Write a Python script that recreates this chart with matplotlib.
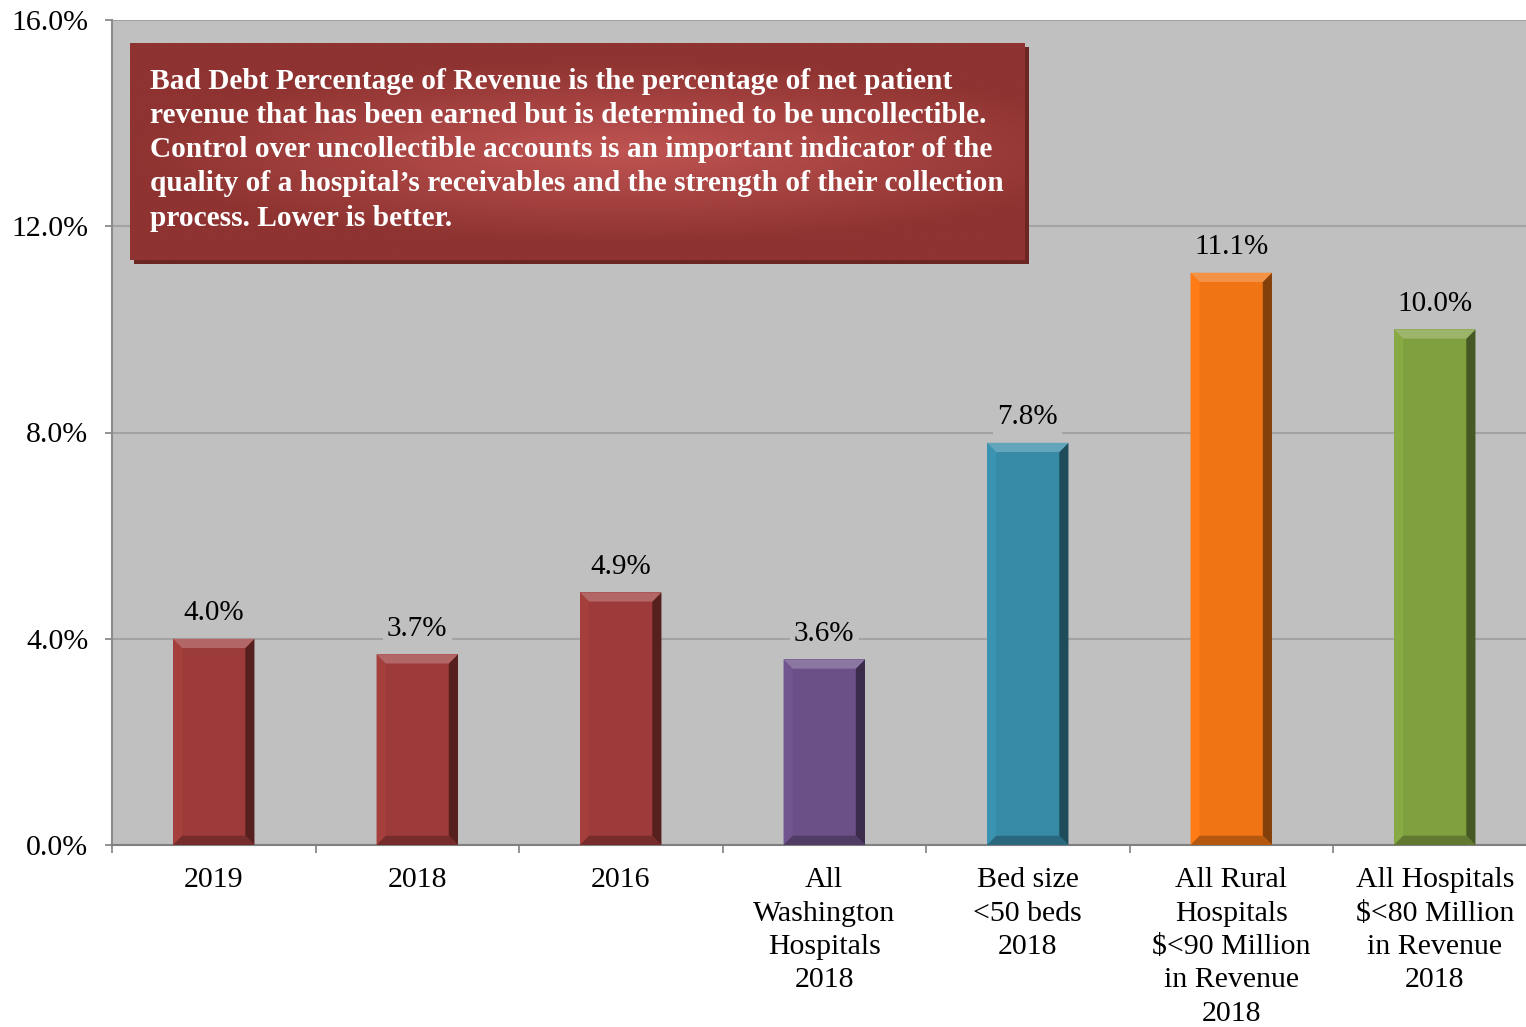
import numpy as np
import matplotlib
matplotlib.use("Agg")
import matplotlib.pyplot as plt
from matplotlib.patches import Polygon, Rectangle
import matplotlib.colors as mcolors

categories = ["2019", "2018", "2016", "All\nWashington\nHospitals\n2018",
              "Bed size\n<50 beds\n2018", "All Rural\nHospitals\n$<90 Million\nin Revenue\n2018",
              "All Hospitals\n$<80 Million\nin Revenue\n2018"]
values = [4.0, 3.7, 4.9, 3.6, 7.8, 11.1, 10.0]
bar_colors = ["#9c3b39", "#9c3b39", "#9c3b39", "#6a5087", "#378ba6", "#f07414", "#80a040"]
yticks = [0, 4, 8, 12, 16]
note = ("Bad Debt Percentage of Revenue is the percentage of net patient\n"
        "revenue that has been earned but is determined to be uncollectible.\n"
        "Control over uncollectible accounts is an important indicator of the\n"
        "quality of a hospital\u2019s receivables and the strength of their collection\n"
        "process. Lower is better.")

plt.rcParams['font.family'] = ['Liberation Serif', 'DejaVu Serif']
BG = "#c0c0c0"

fig = plt.figure(figsize=(15.26, 10.27), dpi=100)
ax = fig.add_axes([112/1526, 1-845/1027, 1424.5/1526, (845-20)/1027])
ax.set_facecolor(BG)
ax.set_xlim(-0.5, len(categories)-0.5)
ax.set_ylim(0, 16)

x = np.arange(len(categories))
width = 0.40
ax.bar(x, values, width=width, color=bar_colors, zorder=3, linewidth=0)

# bevel effect
bx = 0.045
by = 0.18
for xi, v, c in zip(x, values, bar_colors):
    rgb = np.array(mcolors.to_rgb(c))
    light = np.clip(rgb + (1-rgb)*0.22, 0, 1)
    dark = rgb*0.55
    mid_dark = rgb*0.75
    l, r = xi - width/2, xi + width/2
    top = Polygon([(l, v), (r, v), (r-bx, v-by), (l+bx, v-by)], closed=True, color=light, zorder=4, lw=0)
    right = Polygon([(r, v), (r, 0), (r-bx, by), (r-bx, v-by)], closed=True, color=dark, zorder=4, lw=0)
    left = Polygon([(l, v), (l, 0), (l+bx, by), (l+bx, v-by)], closed=True, color=np.clip(rgb*1.06, 0, 1), zorder=4, lw=0)
    bottom = Polygon([(l, 0), (r, 0), (r-bx, by), (l+bx, by)], closed=True, color=mid_dark, zorder=4, lw=0)
    for p in (left, right, top, bottom):
        ax.add_patch(p)
    ax.text(xi, v + 0.24, f"{v:.1f}%", ha="center", va="bottom", fontsize=21, color="black",
            zorder=5, bbox=dict(facecolor=BG, edgecolor="none", pad=3))

# grid
ax.set_yticks(yticks)
ax.set_yticklabels([f"{t:.1f}%" for t in yticks], fontsize=21.5)
ax.yaxis.grid(True, color="#a3a3a3", linewidth=1.5, zorder=0)
ax.set_axisbelow(True)

ax.set_xticks(x)
ax.set_xticklabels(categories, fontsize=21.5, linespacing=1.37)
ax.tick_params(axis="x", length=0, pad=16)
ax.set_xticks(np.arange(-0.5, len(categories), 1), minor=True)
ax.tick_params(axis="x", which="minor", length=6, width=1.2, color="#808080", direction="out")
ax.tick_params(axis="y", length=5, width=1.2, color="#808080", direction="out", pad=12)

for s in ("top", "right"):
    ax.spines[s].set_visible(False)
ax.spines["left"].set_color("#8c8c8c")
ax.spines["left"].set_linewidth(1.5)
ax.spines["bottom"].set_color("#808080")
ax.spines["bottom"].set_linewidth(1.5)

# annotation box with gradient
AW, AH = 1424.5, 825
x0, x1 = (130-112)/AW, (1025-112)/AW
y0, y1 = (845-260)/AH, (845-43)/AH
sx, sy = 4/AW, 4/AH
ax.add_patch(Rectangle((x0+sx, y0-sy), x1-x0, y1-y0, transform=ax.transAxes,
                       color="#6b2624", zorder=6, lw=0))
ny, nx = 200, 600
yy, xx = np.mgrid[-1:1:ny*1j, -1:1:nx*1j]
rad = np.sqrt(((xx-0.1)/1.1)**2 + (yy/0.85)**2)
t = np.clip(rad, 0, 1)
c_in = np.array(mcolors.to_rgb("#bf5452"))
c_out = np.array(mcolors.to_rgb("#8e3331"))
img = c_in[None, None, :]*(1-t[..., None]) + c_out[None, None, :]*t[..., None]
ax.imshow(img, extent=(x0, x1, y0, y1), transform=ax.transAxes, zorder=7, aspect="auto",
          interpolation="bilinear")
ax.set_xlim(-0.5, len(categories)-0.5)
ax.set_ylim(0, 16)
ax.text(x0 + 20/AW, y1 - 25/AH, note, transform=ax.transAxes, ha="left", va="top",
        fontsize=21.2, fontweight="bold", color="white", zorder=8, linespacing=1.34)

fig.savefig("out.png", dpi=100, facecolor="white")
